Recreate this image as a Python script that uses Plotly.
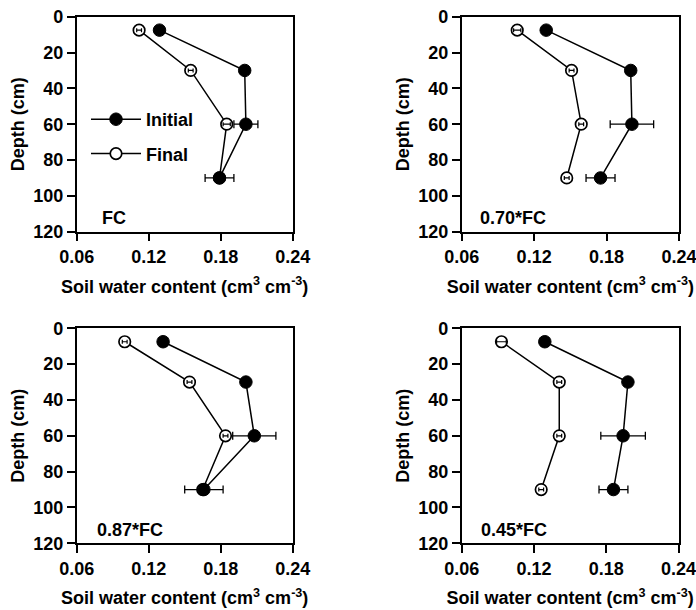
import plotly.graph_objects as go

depth = [7.5, 30, 60, 90]
panel_labels = ["FC", "0.70*FC", "0.87*FC", "0.45*FC"]

initial_vals = [
    [0.129, 0.200, 0.201, 0.179],
    [0.130, 0.200, 0.201, 0.175],
    [0.132, 0.201, 0.208, 0.166],
    [0.129, 0.198, 0.194, 0.186],
]
initial_err = [
    [0.003, 0.003, 0.010, 0.012],
    [0.003, 0.003, 0.018, 0.012],
    [0.003, 0.003, 0.018, 0.016],
    [0.003, 0.003, 0.0185, 0.012],
]
final_vals = [
    [0.112, 0.155, 0.185, 0.179],
    [0.106, 0.151, 0.159, 0.147],
    [0.100, 0.154, 0.184, 0.165],
    [0.093, 0.141, 0.141, 0.126],
]
final_err = [
    [0.002, 0.002, 0.003, 0.003],
    [0.003, 0.002, 0.002, 0.002],
    [0.002, 0.002, 0.002, 0.002],
    [0.004, 0.002, 0.002, 0.002],
]
label_x = [0.079, 0.0738, 0.0753, 0.0746]

x_ticks = [0.06, 0.12, 0.18, 0.24]
y_ticks = [0, 20, 40, 60, 80, 100, 120]

W, H = 696, 610
# pixel boxes of the four plot areas: (left, right, top, bottom)
boxes = [
    (76.7, 292.7, 16.7, 231.7),
    (461.7, 679.0, 16.7, 231.7),
    (76.7, 292.7, 328.3, 543.3),
    (461.7, 678.5, 328.3, 543.3),
]

FONT = "Liberation Sans, Arial, Helvetica, sans-serif"
fig = go.Figure()
layout = dict(
    width=W, height=H, margin=dict(l=0, r=0, t=0, b=0, autoexpand=False),
    paper_bgcolor="white", plot_bgcolor="white",
    font=dict(family=FONT, size=17, color="black", weight="bold"),
    showlegend=True,
    legend=dict(
        x=86 / W, y=1 - 101 / H, xanchor="left", yanchor="top",
        bgcolor="rgba(0,0,0,0)", font=dict(size=18, weight="bold"),
        traceorder="grouped", tracegroupgap=8, itemwidth=50,
    ),
    annotations=[],
)

for i in range(4):
    n = "" if i == 0 else str(i + 1)
    xa, ya = "x" + n, "y" + n
    l, r, t, b = boxes[i]
    show = i == 0
    fig.add_trace(go.Scatter(
        x=final_vals[i], y=depth, xaxis=xa, yaxis=ya, mode="lines+markers",
        name="Final", legendgroup="final", legendrank=2, showlegend=show,
        line=dict(color="black", width=1.5),
        marker=dict(symbol="circle", size=11.5, color="white",
                    line=dict(color="black", width=1.7)),
    ))
    fig.add_trace(go.Scatter(
        x=final_vals[i], y=depth, xaxis=xa, yaxis=ya, mode="markers",
        showlegend=False, hoverinfo="skip",
        marker=dict(size=1, color="rgba(0,0,0,0)"),
        error_x=dict(type="data", array=final_err[i], visible=True,
                     color="black", thickness=1.2, width=2),
    ))
    fig.add_trace(go.Scatter(
        x=initial_vals[i], y=depth, xaxis=xa, yaxis=ya, mode="lines+markers",
        name="Initial", legendgroup="init", legendrank=1, showlegend=show,
        line=dict(color="black", width=1.5),
        marker=dict(symbol="circle", size=12.5, color="black",
                    line=dict(color="black", width=1)),
        error_x=dict(type="data", array=initial_err[i], visible=True,
                     color="black", thickness=1.3, width=4),
    ))
    axis_common = dict(
        showline=True, linecolor="black", linewidth=1.5, mirror=True,
        ticks="outside", ticklen=8, tickwidth=1.5, tickcolor="black",
        showgrid=False, zeroline=False, automargin=False,
        ticklabeloverflow="allow",
        tickfont=dict(family=FONT, size=18, weight="bold"),
    )
    layout["xaxis" + n] = dict(
        axis_common, domain=[l / W, r / W], anchor=ya, range=[0.06, 0.24],
        tickvals=x_ticks, tickformat=".2f",
        title=dict(text="Soil water content (cm<sup>3</sup> cm<sup>-3</sup>)",
                   font=dict(family=FONT, size=18, weight="bold"), standoff=14),
    )
    layout["yaxis" + n] = dict(
        axis_common, domain=[1 - b / H, 1 - t / H], anchor=xa, range=[120, 0],
        tickvals=y_ticks,
        title=dict(text="Depth (cm)", font=dict(family=FONT, size=18, weight="bold"),
                   standoff=4),
    )
    layout["annotations"].append(dict(
        x=label_x[i], y=112.5, xref=xa, yref=ya,
        text=panel_labels[i], showarrow=False, xanchor="left", yanchor="middle",
        font=dict(family=FONT, size=18, weight="bold"),
    ))

fig.update_layout(**layout)
fig.write_html("out.html")
